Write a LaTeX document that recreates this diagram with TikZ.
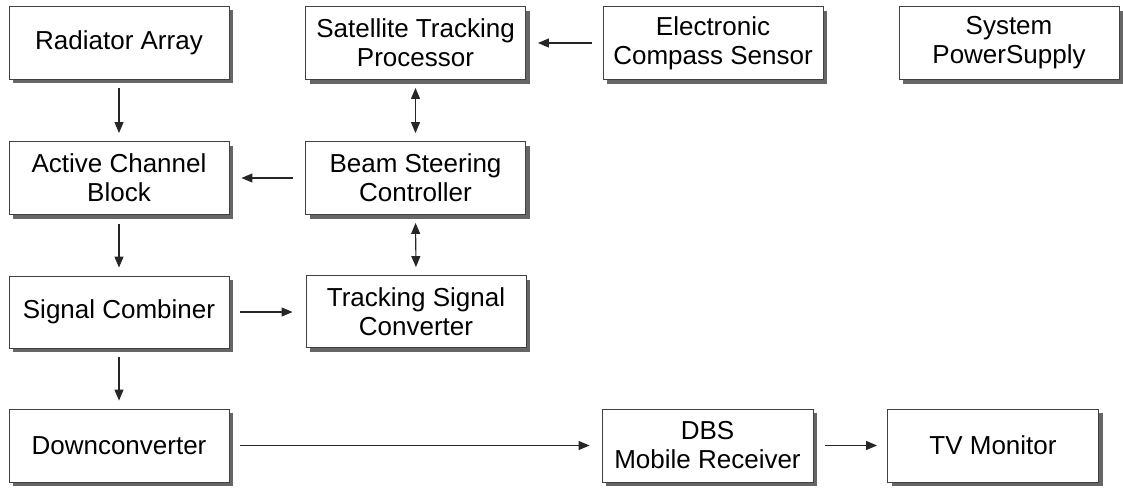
\documentclass[tikz,border=0pt]{standalone}
\usepackage{fontspec}
\setmainfont{Liberation Sans}
\usetikzlibrary{arrows.meta,shadows}
\begin{document}
\begin{tikzpicture}[x=1pt,y=-1pt,
  blk/.style={draw=black!75, line width=0.9pt, fill=white, align=center,
    minimum height=73pt, inner sep=0pt,
    font=\fontsize{26}{29}\selectfont,
    drop shadow={shadow xshift=4pt, shadow yshift=-4pt, fill=black!60, opacity=1}},
  w220/.style={minimum width=220pt},
  w211/.style={minimum width=211pt},
  conn/.style={draw=black!85, line width=1.1pt, -{Triangle[length=11pt,width=9pt]}},
  bconn/.style={draw=black!85, line width=1.1pt, {Triangle[length=11pt,width=9pt]}-{Triangle[length=11pt,width=9pt]}}
]
\useasboundingbox (0,0) rectangle (1123,490);
\fill[white] (0,0) rectangle (1123,490);

\node[blk,w220] (rad) at (119,42.5) {Radiator Array};
\node[blk,w220] (sat) at (415.5,43) {Satellite Tracking\\Processor};
\node[blk,w220] (cmp) at (713,43) {Electronic\\Compass Sensor};
\node[blk,w220] (pwr) at (1009,43) {System\\PowerSupply};

\node[blk,w220] (act) at (119,178) {Active Channel\\Block};
\node[blk,w220] (bsc) at (415.5,178) {Beam Steering\\Controller};

\node[blk,w220,minimum height=72pt] (sig) at (119,312) {Signal Combiner};
\node[blk,w220,minimum height=72pt] (tsc) at (416,311.5) {Tracking Signal\\Converter};

\node[blk,w220] (dwn) at (119,445.5) {Downconverter};
\node[blk,w211] (dbs) at (707.5,445.5) {DBS\\Mobile Receiver};
\node[blk,w211] (tv) at (993,445.5) {TV Monitor};

% vertical arrows
\draw[conn, shorten <=9pt, shorten >=8pt] (rad.south) -- (act.north);
\draw[conn, shorten <=9pt, shorten >=8pt] (act.south) -- (sig.north);
\draw[conn, shorten <=9pt, shorten >=8pt] (sig.south) -- (dwn.north);
\draw[bconn, shorten <=8pt, shorten >=8pt] (sat.south) -- (bsc.north);
\draw[bconn, shorten <=8pt, shorten >=8pt] (bsc.south) -- (tsc.north);

% horizontal arrows
\draw[conn, shorten <=11pt, shorten >=12pt] (cmp.west) -- (sat.east);
\draw[conn, shorten <=12pt, shorten >=12pt] (bsc.west) -- (act.east);
\draw[conn, shorten <=11pt, shorten >=13pt] (sig.east) -- (tsc.west|-sig.east);
\draw[conn, shorten <=11pt, shorten >=12pt] (dwn.east) -- (dbs.west);
\draw[conn, shorten <=12pt, shorten >=10pt] (dbs.east) -- (tv.west);
\end{tikzpicture}
\end{document}
